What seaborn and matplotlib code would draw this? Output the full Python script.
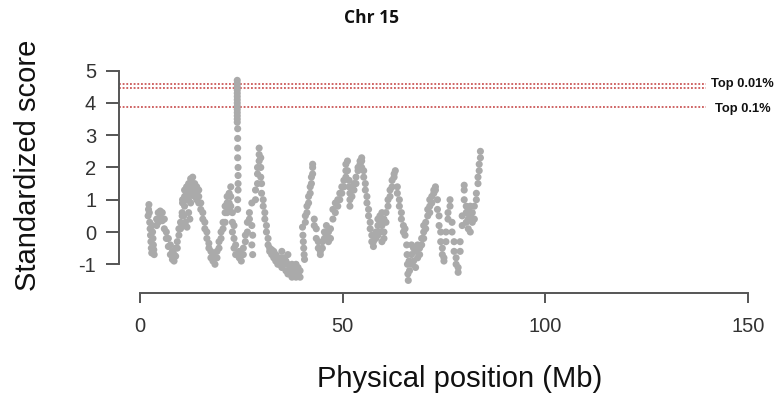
import matplotlib
matplotlib.use("Agg")
import matplotlib.pyplot as plt
import seaborn as sns
import pandas as pd

# ---- data (position in Mb, standardized score) ----
position_mb = [
    2.0, 2.1, 2.2, 2.3, 2.4, 2.5, 2.6, 2.7, 2.8, 2.9, 3.0, 3.1, 3.2, 3.3, 3.4, 3.5,
    4.1, 4.1, 4.5, 4.5, 5.0, 5.0, 5.5, 5.5, 6.0, 6.0,
    6.5, 6.5, 7.0, 7.0, 7.5, 7.5, 8.0, 8.0, 8.4, 8.4, 8.8, 8.8,
    9.2, 9.2, 9.6, 9.6, 10.0, 10.0, 10.4, 10.4, 10.4,
    10.5, 10.5, 11.0, 11.0, 11.0, 11.5, 11.5, 11.5, 12.0, 12.0, 12.0,
    12.5, 12.5, 12.5, 12.5, 13.0, 13.0, 13.0, 13.5, 13.5, 13.5,
    14.0, 14.0, 14.0, 14.5, 14.5, 14.5,
    10.8, 11.2, 11.6, 12.0, 12.3,
    15.0, 15.0, 15.5, 15.5, 16.0, 16.0, 16.5, 16.5, 17.0, 17.0, 17.5, 17.5,
    18.0, 18.0, 18.5, 18.5,
    19.0, 19.0, 19.5, 19.5, 20.0, 20.0, 20.5, 20.5, 21.0, 21.0, 21.0,
    21.5, 21.5, 21.5, 22.0, 22.0, 22.0, 22.4, 22.4, 22.4,
    22.8, 22.8, 22.8, 23.2, 23.2, 23.2, 23.6, 23.6, 24.5, 24.5, 25.0, 25.0,
    24.0, 24.0, 24.0, 24.0, 24.0, 24.0, 24.0, 24.0, 24.0, 24.0, 24.0, 24.0,
    24.0, 24.0, 24.1, 24.1, 24.1, 24.1, 24.2, 24.2, 24.2, 24.2, 24.1, 24.1,
    25.5, 25.5, 26.0, 26.0, 26.5, 26.5, 27.0, 27.0, 27.6, 27.6, 27.6, 27.8, 27.8,
    28.5, 28.5, 29.0, 29.0, 29.0, 29.4, 29.4, 29.4, 29.8, 29.8, 29.8, 30.0, 30.0,
    30.4, 30.4, 30.8, 30.8, 31.2, 31.2, 31.6, 31.6, 32.0, 32.0, 32.5, 32.5,
    33.0, 33.0, 33.5, 33.5, 34.0, 34.0, 34.5, 34.5,
    35.0, 35.0, 35.0, 35.5, 35.5, 36.0, 36.0, 36.5, 36.5, 36.5, 37.0, 37.0,
    37.5, 37.5, 37.5, 38.0, 38.0, 38.5, 38.5, 38.5, 39.0, 39.0, 39.5, 39.5,
    40.1, 40.2, 40.3, 40.4, 40.5, 40.6,
    40.8, 40.8, 41.2, 41.2, 41.6, 41.6, 42.0, 42.0, 42.3, 42.3, 42.6, 42.6, 42.6,
    43.0, 43.0, 43.5, 43.5, 44.0, 44.0, 44.5, 44.5, 45.0, 45.0, 45.5, 45.5,
    46.0, 46.0, 46.5, 46.5, 47.0, 47.0,
    47.6, 47.6, 48.2, 48.2, 48.8, 48.8,
    49.3, 49.3, 49.8, 49.8, 50.3, 50.3, 50.8, 50.8, 50.8, 51.2, 51.2,
    51.6, 51.6, 51.8, 51.8, 51.8, 52.3, 52.3, 52.8, 52.8, 53.3, 53.3,
    53.8, 53.8, 54.3, 54.3, 54.7, 54.7, 54.7,
    55.2, 55.2, 55.6, 55.6, 56.0, 56.0, 56.4, 56.4, 56.8, 56.8, 57.2, 57.2,
    57.6, 57.6,
    58.2, 58.2, 58.7, 58.7, 58.7, 59.2, 59.2, 59.2, 59.7, 59.7, 59.7,
    60.2, 60.2, 60.2, 60.7, 60.7,
    61.2, 61.2, 61.7, 61.7, 62.2, 62.2, 62.7, 62.7, 63.0,
    63.5, 63.5, 64.0, 64.0, 64.5, 64.5, 65.0, 65.0, 65.4, 65.4,
    65.8, 65.9, 66.0, 66.1, 66.2, 66.4, 66.5,
    67.0, 67.0, 67.0, 67.5, 67.5, 68.0, 68.0, 68.5, 68.5, 69.0, 69.0,
    69.5, 69.5, 70.0, 70.0, 70.0, 70.5, 70.5, 71.0, 71.0,
    71.5, 71.5, 71.5, 72.0, 72.0, 72.5, 72.5, 72.9, 72.9,
    73.4, 73.4, 73.8, 73.8, 74.2, 74.2, 74.6, 74.6, 75.0, 75.0,
    75.5, 75.5, 76.0, 76.0, 76.5, 76.5,
    77.0, 77.0, 77.5, 77.5, 78.0, 78.0, 78.5, 78.5,
    79.0, 79.0, 79.5, 79.5, 80.0, 80.0, 80.0,
    80.5, 80.5, 80.5, 81.0, 81.0, 81.0, 81.5, 81.5, 81.5, 82.0, 82.0, 82.5, 82.5,
    83.0, 83.0, 83.4, 83.4, 83.7, 83.7, 84.0, 84.0,
]
score = [
    0.5, 0.7, 0.85, 0.6, 0.3, 0.1, -0.1, -0.3, -0.5, -0.65, 0.2, 0.0, -0.2, -0.4, -0.55, -0.7,
    0.4, 0.2, 0.6, 0.3, 0.65, 0.45, 0.6, 0.35, 0.4, 0.1,
    0.0, -0.2, -0.2, -0.45, -0.4, -0.7, -0.6, -0.85, -0.9, -0.7, -0.5, -0.75,
    -0.3, -0.5, -0.1, 0.1, 0.3, 0.1, 0.5, 0.2, 0.6,
    1.0, 0.9, 1.3, 1.1, 0.8, 1.4, 1.2, 1.0, 1.5, 1.3, 1.0,
    1.65, 1.4, 1.15, 0.9, 1.7, 1.5, 1.2, 1.5, 1.3, 1.1,
    1.4, 1.2, 1.0, 1.3, 1.1, 0.9,
    0.5, 0.3, 0.15, 0.6, 0.4,
    0.9, 0.7, 0.6, 0.4, 0.3, 0.1, 0.0, -0.2, -0.35, -0.5, -0.6, -0.8,
    -0.9, -0.7, -1.0, -0.8,
    -0.6, -0.8, -0.3, -0.5, 0.0, -0.2, 0.3, 0.1, 0.6, 0.3, 0.8,
    0.9, 0.6, 1.1, 1.2, 0.9, 0.7, 1.4, 1.1, 0.8,
    0.6, 0.3, 0.0, 0.2, -0.2, -0.5, -0.4, -0.7, -0.8, -0.6, -0.9, -0.7,
    4.7, 4.6, 4.5, 4.4, 4.3, 4.2, 4.1, 4.0, 3.9, 3.8, 3.7, 3.6,
    3.5, 3.4, 3.2, 2.9, 2.6, 2.3, 2.0, 1.75, 1.5, 1.3, 1.0, 0.7,
    -0.7, -0.5, -0.3, -0.1, 0.0, 0.3, 0.4, 0.6, 0.9, 0.2, -0.4, -0.1, -0.7,
    1.0, 1.3, 1.5, 1.8, 2.0, 2.2, 2.4, 2.6, 2.3, 2.0, 1.7, 1.5, 1.2,
    1.0, 0.8, 0.6, 0.4, 0.2, 0.0, -0.2, -0.4, -0.5, -0.6, -0.7, -0.55,
    -0.8, -0.6, -0.9, -0.7, -0.85, -1.0, -1.0, -0.8,
    -0.6, -0.9, -1.1, -0.8, -1.0, -0.9, -1.2, -0.7, -1.0, -1.3, -1.1, -1.3,
    -1.2, -1.0, -1.4, -1.3, -1.1, -1.4, -1.2, -1.0, -1.3, -1.1, -1.4, -1.2,
    0.15, -0.1, -0.3, -0.5, -0.7, -0.85,
    0.5, 0.3, 0.8, 0.6, 1.1, 0.9, 1.4, 1.2, 1.7, 1.5, 2.0, 2.1, 1.8,
    0.4, 0.2, 0.1, -0.2, -0.3, -0.5, -0.6, -0.7, -0.5, -0.3, -0.2, 0.0,
    0.2, -0.1, 0.0, -0.3, -0.2, 0.1,
    0.4, 0.7, 0.6, 0.9, 0.8, 1.0,
    1.2, 1.0, 1.4, 1.2, 1.6, 1.4, 1.9, 2.1, 1.7, 2.2, 1.9,
    1.6, 1.4, 0.8, 1.0, 1.2, 1.1, 1.4, 1.5, 1.3, 1.7, 1.5,
    1.9, 2.0, 2.1, 2.2, 2.3, 2.2, 2.0,
    1.9, 1.7, 1.5, 1.3, 1.1, 0.9, 0.7, 0.5, 0.3, 0.1, -0.1, -0.3,
    -0.45, -0.3,
    0.0, -0.2, 0.2, 0.4, -0.1, 0.5, 0.3, 0.0, 0.6, 0.2, -0.3,
    0.4, 0.0, -0.2, 0.3, 0.6,
    0.8, 1.0, 1.1, 1.3, 1.4, 1.6, 1.8, 1.7, 1.9,
    1.4, 1.2, 1.0, 0.8, 0.6, 0.4, 0.2, 0.0, 0.1, -0.1,
    -0.4, -0.7, -1.0, -1.3, -1.5, -0.9, -1.2,
    -0.4, -0.7, -1.0, -0.5, -0.9, -0.6, -1.1, -0.4, -0.8, -0.5, -0.7,
    -0.2, -0.4, 0.0, 0.2, -0.2, 0.3, 0.1, 0.5, 0.7,
    0.8, 1.0, 0.6, 1.1, 0.9, 1.3, 1.2, 1.4, 1.3,
    1.0, 0.7, 0.5, 0.2, 0.0, -0.3, -0.5, -0.7, -0.9, -0.8,
    -0.3, 0.0, 0.4, 0.6, 1.0, 0.8,
    0.3, 0.0, -0.3, -0.6, -0.8, -1.0, -1.25, -1.1,
    -0.6, -0.3, 0.2, 0.5, 1.0, 1.3, 1.45,
    0.6, 0.8, 0.3, 0.1, 0.4, 0.7, 0.0, 0.5, 0.8, 0.3, 0.6, 0.4, 0.8,
    1.0, 1.2, 1.5, 1.7, 1.9, 2.1, 2.3, 2.5,
]

thresholds = [4.58, 4.45, 3.88]
threshold_labels = ["Top 0.01%", "Top 0.1%"]
threshold_label_y = [4.59, 3.81]

x_ticks = [0, 50, 100, 150]
y_ticks = [-1, 0, 1, 2, 3, 4, 5]
title = "Chr 15"
x_label = "Physical position (Mb)"
y_label = "Standardized score"

df = pd.DataFrame({"pos": position_mb, "score": score})

sns.set_theme(style="white")
plt.rcParams["font.family"] = ["Liberation Sans", "DejaVu Sans"]

fig = plt.figure(figsize=(7.76, 3.97), dpi=100)
ax = fig.add_axes([119 / 776, 104 / 397, 637 / 776, 233 / 397])

sns.scatterplot(data=df, x="pos", y="score", ax=ax, color="#AAAAAA",
                s=26, linewidth=0, edgecolor="none", zorder=2)

ax.set_xlim(-5.18, 152)
ax.set_ylim(-1.89, 5.33)

# threshold lines
ax.hlines(thresholds, xmin=-5.18, xmax=139.6, colors="#C23B3B",
          linestyles=(0, (1.2, 1.2)), linewidth=1.1, zorder=1)
for lab, yv in zip(threshold_labels, threshold_label_y):
    ax.text(141.0 if lab.endswith("01%") else 141.9, yv, lab, fontsize=9.3,
            fontweight="bold", color="#111111", va="center", ha="left",
            clip_on=False)

# R-style axes
for side in ["top", "right"]:
    ax.spines[side].set_visible(False)
for side in ["left", "bottom"]:
    ax.spines[side].set_color("#555555")
    ax.spines[side].set_linewidth(1.4)
ax.spines["left"].set_bounds(-1, 5)
ax.spines["bottom"].set_bounds(0, 150)

ax.set_xticks(x_ticks)
ax.set_yticks(y_ticks)
ax.set_yticklabels([str(v) for v in y_ticks])
ax.tick_params(axis="y", length=9.4, width=1.4, color="#555555", pad=7,
               labelsize=14.5, labelcolor="#333333", left=True)
ax.tick_params(axis="x", length=7.5, width=1.4, color="#555555", pad=10,
               labelsize=14.5, labelcolor="#333333", bottom=True)
ax.grid(False)

ax.set_xlabel(x_label, fontsize=21, color="#111111")
ax.set_ylabel(y_label, fontsize=21, color="#111111")
ax.xaxis.set_label_coords(0.534, -0.37)
ax.xaxis.label.set_va("center")
ax.yaxis.set_label_coords(-0.143, 0.549)
ax.yaxis.label.set_va("center")

fig.text(371 / 776, 1 - 18 / 397, title, fontsize=12.5, fontweight="bold",
         family=["Open Sans", "DejaVu Sans"], ha="center", va="center",
         color="#111111")

fig.savefig("out.png", dpi=100)
